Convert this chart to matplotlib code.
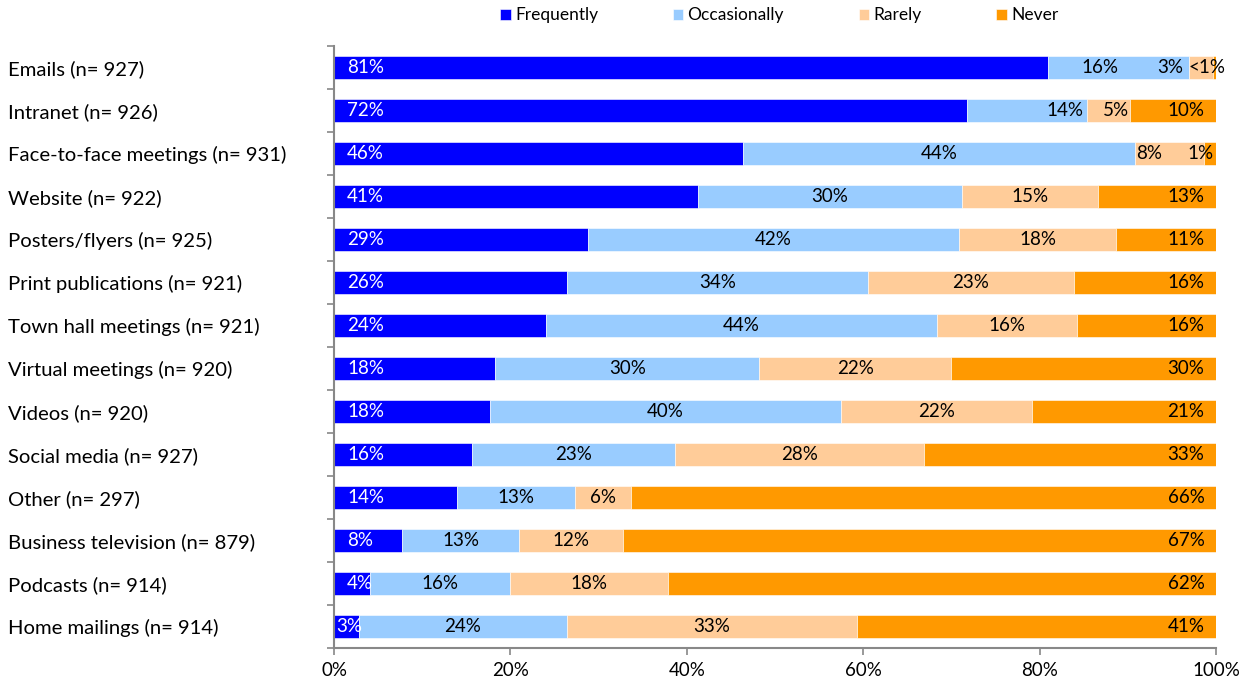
import matplotlib
matplotlib.use("Agg")
import matplotlib.pyplot as plt
import numpy as np

plt.rcParams['font.family'] = ['Lato', 'DejaVu Sans']

channels = [
    "Emails (n= 927)",
    "Intranet (n= 926)",
    "Face-to-face meetings (n= 931)",
    "Website (n= 922)",
    "Posters/flyers (n= 925)",
    "Print publications (n= 921)",
    "Town hall meetings (n= 921)",
    "Virtual meetings (n= 920)",
    "Videos (n= 920)",
    "Social media (n= 927)",
    "Other (n= 297)",
    "Business television (n= 879)",
    "Podcasts (n= 914)",
    "Home mailings (n= 914)",
]

frequently = [80.9, 71.8, 46.4, 41.3, 28.8, 26.4, 24.0, 18.3, 17.7, 15.6, 13.9, 7.7, 4.1, 2.8]
occasionally = [16.0, 13.6, 44.4, 29.9, 42.1, 34.1, 44.4, 29.9, 39.8, 23.1, 13.4, 13.3, 15.8, 23.6]
rarely = [2.8, 4.8, 7.8, 15.4, 17.8, 23.4, 15.8, 21.8, 21.6, 28.2, 6.4, 11.8, 18.0, 32.9]
never = [0.3, 9.8, 1.4, 13.4, 11.3, 16.1, 15.8, 30.0, 20.9, 33.1, 66.3, 67.2, 62.1, 40.7]

series_names = ["Frequently", "Occasionally", "Rarely", "Never"]
colors = ["#0000FF", "#99CCFF", "#FFCC99", "#FF9900"]

# a few labels in the crowded top rows get pushed sideways (in % units)
nudges = {(0, 1): -2.0, (0, 2): -3.5, (0, 3): 2.4,
          (1, 1): 4.3, (1, 2): 0.9,
          (2, 2): -2.3, (2, 3): 1.0,
          (13, 0): -1.2}


def fmt(v):
    return "<1%" if v < 0.5 else f"{round(v):.0f}%"


fig = plt.figure(figsize=(12.39, 6.79), dpi=100)
ax = fig.add_axes([0.2696, 0.0457, 0.7118, 0.8866])

y = np.arange(len(channels))
data = [frequently, occasionally, rarely, never]
left = np.zeros(len(channels))
bars = []
for name, vals, col in zip(series_names, data, colors):
    vals = np.array(vals)
    ax.barh(y, vals, left=left, height=0.53, color=col, label=name,
            edgecolor="white", linewidth=0.4)
    bars.append((vals, left.copy()))
    left = left + vals

for s, (vals, lefts) in enumerate(bars):
    for i, (v, l) in enumerate(zip(vals, lefts)):
        dx = nudges.get((i, s), 0)
        if s == 0:
            ax.text(l + 1.5 + dx, i, fmt(v), color="white", ha="left",
                    va="center", fontsize=13.5)
        elif s == 3:
            ax.text(98.7 + dx, i, fmt(v), color="black", ha="right",
                    va="center", fontsize=13.5)
        else:
            ax.text(l + v / 2 + dx, i, fmt(v), color="black", ha="center",
                    va="center", fontsize=13.5)

ax.set_xlim(0, 100)
ax.set_ylim(len(channels) - 0.5, -0.5)
ax.set_xticks(np.arange(0, 101, 20))
ax.set_xticklabels([f"{t}%" for t in range(0, 101, 20)], fontsize=13.5)
ax.set_yticks(y)
ax.set_yticklabels(channels, fontsize=14.6, ha="left")
# labels hang from the figure's left edge, pad is in points
ax.tick_params(axis="y", which="major", length=0, pad=234.5)
ax.set_yticks(np.arange(-0.5, len(channels), 1), minor=True)
ax.tick_params(axis="y", which="minor", length=5, color="#888888", width=1.2)
ax.tick_params(axis="x", length=5, color="#888888", width=1.2, pad=5)

for side in ["top", "right"]:
    ax.spines[side].set_visible(False)
for side in ["left", "bottom"]:
    ax.spines[side].set_color("#888888")
    ax.spines[side].set_linewidth(1.5)

fig.legend(loc="upper center", bbox_to_anchor=(0.629, 1.012), ncol=4,
           frameon=False, fontsize=12.5, handlelength=0.6, handleheight=0.6,
           handletextpad=0.25, columnspacing=4.3)

fig.savefig("out.png", dpi=100)
